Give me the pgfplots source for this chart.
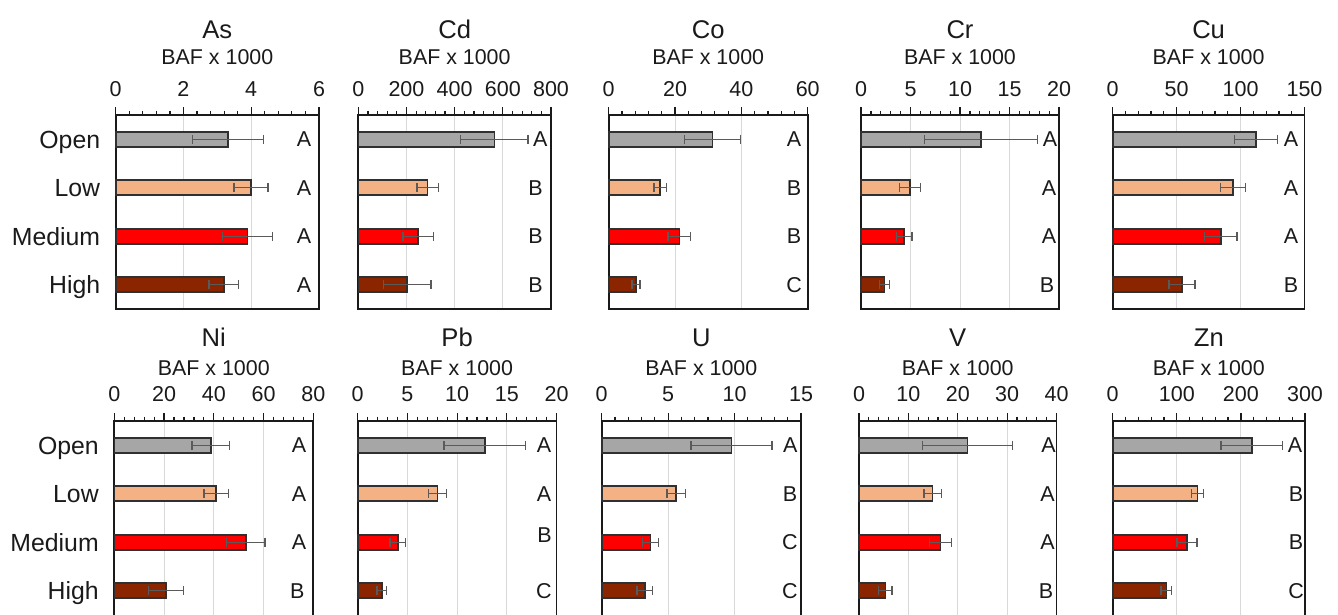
\documentclass[border=0pt]{standalone}
\usepackage{fontspec}
\setmainfont{Liberation Sans}
\usepackage{pgfplots}
\pgfplotsset{compat=1.18}
\definecolor{cOpen}{HTML}{A6A6A6}
\definecolor{cLow}{HTML}{F4B183}
\definecolor{cMed}{HTML}{FF0000}
\definecolor{cHigh}{HTML}{8B2500}
\definecolor{edge}{HTML}{303030}
\definecolor{errc}{HTML}{5A5A5A}
\definecolor{txt}{HTML}{1A1A1A}
\definecolor{gridc}{HTML}{D9D9D9}
\pgfplotsset{
  panel/.style={
    scale only axis, height=97pt, anchor=north west,
    xmin=0, ymin=-0.5, ymax=3.5, y dir=reverse,
    xbar, bar width=7.5pt, bar shift=0pt,
    axis line style={draw=txt, line width=0.9pt},
    xtick pos=upper, xticklabel pos=upper,
    tick align=outside, major tick length=4pt, minor tick length=2.2pt,
    minor x tick num=4,
    tick style={txt, line width=0.6pt},
    xmajorgrids, major grid style={draw=gridc, line width=0.5pt},
    ytick={0,1,2,3}, yticklabels={}, ytick style={draw=none},
    xticklabel style={font=\fontsize{10.75}{12}\selectfont, text=txt, anchor=base, inner sep=0pt, yshift=5.15pt},
    clip=false,
  },
  lower/.style={ymax=3.56, height=98.45pt,
    xticklabel style={yshift=0.5pt}},
  cats/.style={yticklabels={Open,Low,Medium,High},
    yticklabel style={font=\fontsize{12.4}{14}\selectfont, text=txt, anchor=east, inner sep=0pt, text height=8.9pt, text depth=0pt, xshift=-3.6pt}},
  eb/.style={error bars/.cd, x dir=both, x explicit, error mark=|,
    error bar style={line width=0.7pt, color=errc, solid},
    error mark options={line width=0.7pt, color=errc, mark size=2.2pt, solid}},
  bO/.style={fill=cOpen, draw=edge, line width=0.8pt, eb},
  bL/.style={fill=cLow, draw=edge, line width=0.8pt, eb},
  bM/.style={fill=cMed, draw=edge, line width=0.8pt, eb},
  bH/.style={fill=cHigh, draw=edge, line width=0.8pt, eb},
}
\tikzset{
  lt/.style={font=\fontsize{10.75}{12}\selectfont, text=txt, text height=7.7pt, text depth=0pt, inner sep=0pt, anchor=center},
  ttl/.style={font=\fontsize{12.8}{15}\selectfont, text=txt, anchor=base, inner sep=0pt},
  sub/.style={font=\fontsize{10.7}{12}\selectfont, text=txt, anchor=base, inner sep=0pt},
}
\begin{document}
\begin{tikzpicture}
% ---------------- top row ----------------
\begin{axis}[panel, cats, name=As, at={(57.85pt,-57.5pt)}, width=101.65pt, xmax=6,
  xtick={0,2,4,6}, xticklabels={0,2,4,6}]
\addplot[bO] coordinates {(3.31,0) +- (1.05,0)};
\addplot[bL] coordinates {(3.99,1) +- (0.50,0)};
\addplot[bM] coordinates {(3.89,2) +- (0.73,0)};
\addplot[bH] coordinates {(3.19,3) +- (0.44,0)};
\node[lt] at (axis cs:5.56,0) {A};
\node[lt] at (axis cs:5.56,1) {A};
\node[lt] at (axis cs:5.56,2) {A};
\node[lt] at (axis cs:5.56,3) {A};
\end{axis}
\begin{axis}[panel, name=Cd, at={(179.15pt,-57.5pt)}, width=96.35pt, xmax=800,
  xtick={0,200,400,600,800}, xticklabels={0,200,400,600,800}]
\addplot[bO] coordinates {(565,0) +- (140,0)};
\addplot[bL] coordinates {(288,1) +- (44,0)};
\addplot[bM] coordinates {(249,2) +- (63,0)};
\addplot[bH] coordinates {(203,3) +- (99,0)};
\node[lt] at (axis cs:756,0) {A};
\node[lt] at (axis cs:736,1) {B};
\node[lt] at (axis cs:736,2) {B};
\node[lt] at (axis cs:736,3) {B};
\end{axis}
\begin{axis}[panel, name=Co, at={(304.35pt,-57.5pt)}, width=99.5pt, xmax=60,
  xtick={0,20,40,60}, xticklabels={0,20,40,60}]
\addplot[bO] coordinates {(31.3,0) +- (8.5,0)};
\addplot[bL] coordinates {(15.5,1) +- (1.9,0)};
\addplot[bM] coordinates {(21.3,2) +- (3.4,0)};
\addplot[bH] coordinates {(8.2,3) +- (1.2,0)};
\node[lt] at (axis cs:55.9,0) {A};
\node[lt] at (axis cs:55.9,1) {B};
\node[lt] at (axis cs:55.9,2) {B};
\node[lt] at (axis cs:55.9,3) {C};
\end{axis}
\begin{axis}[panel, name=Cr, at={(430.5pt,-57.5pt)}, width=99pt, xmax=20,
  xtick={0,5,10,15,20}, xticklabels={0,5,10,15,20}]
\addplot[bO] coordinates {(12.1,0) +- (5.7,0)};
\addplot[bL] coordinates {(4.94,1) +- (1.07,0)};
\addplot[bM] coordinates {(4.36,2) +- (0.78,0)};
\addplot[bH] coordinates {(2.37,3) +- (0.5,0)};
\node[lt] at (axis cs:19.1,0) {A};
\node[lt] at (axis cs:19.0,1) {A};
\node[lt] at (axis cs:19.0,2) {A};
\node[lt] at (axis cs:18.8,3) {B};
\end{axis}
\begin{axis}[panel, name=Cu, at={(556.35pt,-57.5pt)}, width=95.9pt, xmax=150,
  xtick={0,50,100,150}, xticklabels={0,50,100,150}]
\addplot[bO] coordinates {(112,0) +- (16.8,0)};
\addplot[bL] coordinates {(94.2,1) +- (9.8,0)};
\addplot[bM] coordinates {(84.6,2) +- (12.6,0)};
\addplot[bH] coordinates {(54.2,3) +- (10.2,0)};
\node[lt] at (axis cs:139.4,0) {A};
\node[lt] at (axis cs:139.4,1) {A};
\node[lt] at (axis cs:139.4,2) {A};
\node[lt] at (axis cs:139.4,3) {B};
\end{axis}
% ---------------- bottom row ----------------
\begin{axis}[panel, lower, cats, name=Ni, at={(57.15pt,-210.5pt)}, width=99.5pt, xmax=80,
  xtick={0,20,40,60,80}, xticklabels={0,20,40,60,80}]
\addplot[bO] coordinates {(38.8,0) +- (7.6,0)};
\addplot[bL] coordinates {(41.0,1) +- (4.9,0)};
\addplot[bM] coordinates {(52.9,2) +- (7.7,0)};
\addplot[bH] coordinates {(20.8,3) +- (7.1,0)};
\node[lt] at (axis cs:74.3,0) {A};
\node[lt] at (axis cs:74.3,1) {A};
\node[lt] at (axis cs:74.3,2) {A};
\node[lt] at (axis cs:73.6,3) {B};
\end{axis}
\begin{axis}[panel, lower, name=Pb, at={(178.85pt,-210.5pt)}, width=99.4pt, xmax=20,
  xtick={0,5,10,15,20}, xticklabels={0,5,10,15,20}]
\addplot[bO] coordinates {(12.8,0) +- (4.1,0)};
\addplot[bL] coordinates {(8.02,1) +- (0.9,0)};
\addplot[bM] coordinates {(4.03,2) +- (0.8,0)};
\addplot[bH] coordinates {(2.43,3) +- (0.47,0)};
\node[lt] at (axis cs:18.74,0) {A};
\node[lt] at (axis cs:18.74,1) {A};
\node[lt] at (axis cs:18.80,1.85) {B};
\node[lt] at (axis cs:18.74,3) {C};
\end{axis}
\begin{axis}[panel, lower, name=U, at={(300.85pt,-210.5pt)}, width=99.65pt, xmax=15,
  xtick={0,5,10,15}, xticklabels={0,5,10,15}]
\addplot[bO] coordinates {(9.76,0) +- (3.05,0)};
\addplot[bL] coordinates {(5.61,1) +- (0.7,0)};
\addplot[bM] coordinates {(3.68,2) +- (0.6,0)};
\addplot[bH] coordinates {(3.24,3) +- (0.58,0)};
\node[lt] at (axis cs:14.2,0) {A};
\node[lt] at (axis cs:14.17,1) {B};
\node[lt] at (axis cs:14.17,2) {C};
\node[lt] at (axis cs:14.17,3) {C};
\end{axis}
\begin{axis}[panel, lower, name=V, at={(429.5pt,-210.5pt)}, width=98.75pt, xmax=40,
  xtick={0,10,20,30,40}, xticklabels={0,10,20,30,40}]
\addplot[bO] coordinates {(22.0,0) +- (9.1,0)};
\addplot[bL] coordinates {(14.9,1) +- (1.75,0)};
\addplot[bM] coordinates {(16.5,2) +- (2.2,0)};
\addplot[bH] coordinates {(5.35,3) +- (1.36,0)};
\node[lt] at (axis cs:38.4,0) {A};
\node[lt] at (axis cs:38.2,1) {A};
\node[lt] at (axis cs:38.2,2) {A};
\node[lt] at (axis cs:37.9,3) {B};
\end{axis}
\begin{axis}[panel, lower, name=Zn, at={(556.35pt,-210.5pt)}, width=96.15pt, xmax=300,
  xtick={0,100,200,300}, xticklabels={0,100,200,300}]
\addplot[bO] coordinates {(217,0) +- (48,0)};
\addplot[bL] coordinates {(132,1) +- (9.5,0)};
\addplot[bM] coordinates {(116,2) +- (15.5,0)};
\addplot[bH] coordinates {(83.7,3) +- (8.3,0)};
\node[lt] at (axis cs:284.4,0) {A};
\node[lt] at (axis cs:286,1) {B};
\node[lt] at (axis cs:286,2) {B};
\node[lt] at (axis cs:286,3) {C};
\end{axis}
% ---------------- titles ----------------
\foreach \n/\t in {As/As,Cd/Cd,Co/Co,Cr/Cr,Cu/Cu}{
  \node[ttl] at ([yshift=38.35pt]\n.north) {\t};
  \node[sub] at ([yshift=25pt]\n.north) {BAF x 1000};
}
\foreach \n/\t in {Ni/Ni,Pb/Pb,U/U,V/V,Zn/Zn}{
  \node[ttl] at ([yshift=37.15pt]\n.north) {\t};
  \node[sub] at ([yshift=22.75pt]\n.north) {BAF x 1000};
}
\pgfresetboundingbox
\path[use as bounding box] (0,0) rectangle (669pt,-307.5pt);
\end{tikzpicture}
\end{document}
